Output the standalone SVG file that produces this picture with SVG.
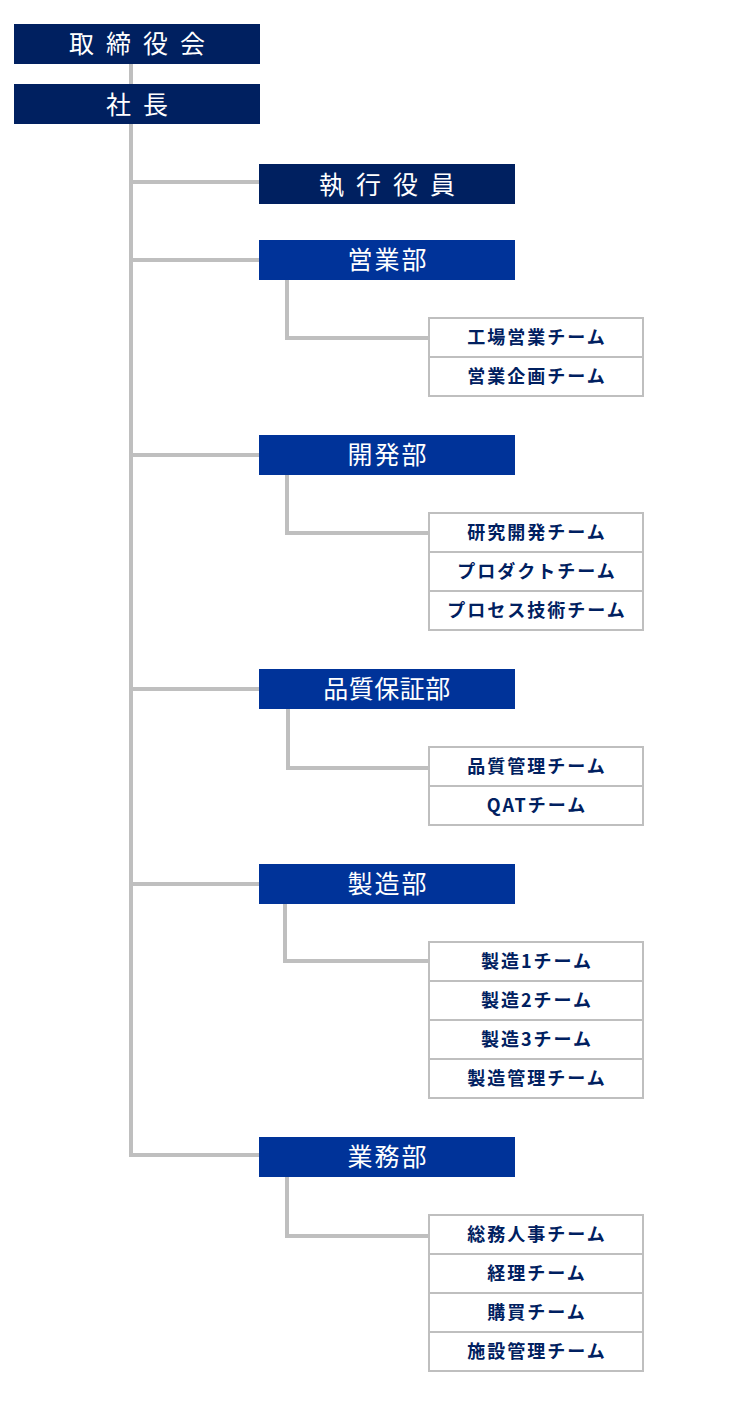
<svg xmlns="http://www.w3.org/2000/svg" width="730" height="1411" viewBox="0 0 730 1411">
<style>
.bg{fill:#ffffff}
.top{fill:#002060}
.dept{fill:#003399}
.team{fill:#ffffff;stroke:#bfbfbf;stroke-width:2}
.conn{fill:none;stroke:#bfbfbf;stroke-width:4;stroke-linejoin:miter}
.tt{font-family:"Noto Sans CJK JP","Noto Sans",sans-serif;font-size:25px;fill:#ffffff;letter-spacing:12px}
.dt{font-family:"Noto Sans CJK JP","Noto Sans",sans-serif;font-size:25px;fill:#ffffff;letter-spacing:2px;text-anchor:middle}
.mt{font-family:"Noto Sans CJK JP","Noto Sans",sans-serif;font-size:18px;font-weight:bold;fill:#002060;letter-spacing:2px;text-anchor:middle}
</style>
<rect class="bg" x="0" y="0" width="730" height="1411"/>
<g id="connectors">
<path class="conn" d="M131,64 V84"/>
<path class="conn" d="M131,124 V1155 H259"/>
<path class="conn" d="M131,182 H259"/>
<path class="conn" d="M131,260 H259"/>
<path class="conn" d="M131,455 H259"/>
<path class="conn" d="M131,689 H259"/>
<path class="conn" d="M131,884 H259"/>
<path class="conn" d="M287,280 V338 H429"/>
<path class="conn" d="M287,475 V533 H429"/>
<path class="conn" d="M288,709 V768 H429"/>
<path class="conn" d="M285,904 V961 H429"/>
<path class="conn" d="M287,1177 V1236 H429"/>
</g>
<g id="board">
<rect class="top" x="14" y="24" width="246" height="40"/>
<text class="tt" x="69" y="53">取締役会</text>
</g>
<g id="president">
<rect class="top" x="14" y="84" width="246" height="40"/>
<text class="tt" x="106" y="113.5">社長</text>
</g>
<g id="executives">
<rect class="top" x="259" y="164" width="256" height="40"/>
<text class="tt" x="319" y="193.5">執行役員</text>
</g>
<g id="sales">
<rect class="dept" x="259" y="240" width="256" height="40"/>
<text class="dt" x="388" y="268.5">営業部</text>
</g>
<g id="sales-teams">
<rect class="team" x="429" y="318" width="214" height="39"/>
<text class="mt" x="537" y="344">工場営業チーム</text>
<rect class="team" x="429" y="357" width="214" height="39"/>
<text class="mt" x="537" y="383">営業企画チーム</text>
</g>
<g id="dev">
<rect class="dept" x="259" y="435" width="256" height="40"/>
<text class="dt" x="388" y="463.5">開発部</text>
</g>
<g id="dev-teams">
<rect class="team" x="429" y="513" width="214" height="39"/>
<text class="mt" x="537" y="539">研究開発チーム</text>
<rect class="team" x="429" y="552" width="214" height="39"/>
<text class="mt" x="537" y="578">プロダクトチーム</text>
<rect class="team" x="429" y="591" width="214" height="39"/>
<text class="mt" x="537" y="617">プロセス技術チーム</text>
</g>
<g id="qa">
<rect class="dept" x="259" y="669" width="256" height="40"/>
<text class="dt" x="387" y="697.5" style="letter-spacing:0.5px">品質保証部</text>
</g>
<g id="qa-teams">
<rect class="team" x="429" y="747" width="214" height="39"/>
<text class="mt" x="537" y="773">品質管理チーム</text>
<rect class="team" x="429" y="786" width="214" height="39"/>
<text class="mt" x="537" y="812">QATチーム</text>
</g>
<g id="mfg">
<rect class="dept" x="259" y="864" width="256" height="40"/>
<text class="dt" x="388" y="892.5">製造部</text>
</g>
<g id="mfg-teams">
<rect class="team" x="429" y="942" width="214" height="39"/>
<text class="mt" x="537" y="968">製造1チーム</text>
<rect class="team" x="429" y="981" width="214" height="39"/>
<text class="mt" x="537" y="1007">製造2チーム</text>
<rect class="team" x="429" y="1020" width="214" height="39"/>
<text class="mt" x="537" y="1046">製造3チーム</text>
<rect class="team" x="429" y="1059" width="214" height="39"/>
<text class="mt" x="537" y="1085">製造管理チーム</text>
</g>
<g id="admin">
<rect class="dept" x="259" y="1137" width="256" height="40"/>
<text class="dt" x="388" y="1165.5">業務部</text>
</g>
<g id="admin-teams">
<rect class="team" x="429" y="1215" width="214" height="39"/>
<text class="mt" x="537" y="1241">総務人事チーム</text>
<rect class="team" x="429" y="1254" width="214" height="39"/>
<text class="mt" x="537" y="1280">経理チーム</text>
<rect class="team" x="429" y="1293" width="214" height="39"/>
<text class="mt" x="537" y="1319">購買チーム</text>
<rect class="team" x="429" y="1332" width="214" height="39"/>
<text class="mt" x="537" y="1358">施設管理チーム</text>
</g>
</svg>
